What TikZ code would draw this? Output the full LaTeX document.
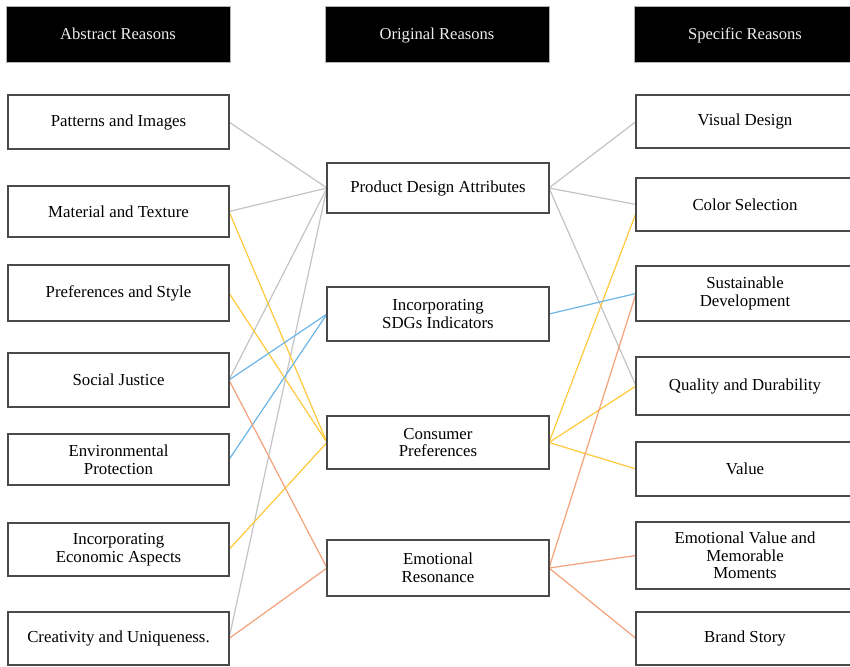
\documentclass[tikz,border=0pt]{standalone}
\usepackage{fontspec}
\setmainfont{Liberation Serif}
\begin{document}
\definecolor{boxline}{HTML}{4A4A4A}
\definecolor{lgray}{HTML}{C4C4C4}
\definecolor{lyellow}{HTML}{FFC93C}
\definecolor{lblue}{HTML}{6BB6E6}
\definecolor{lorange}{HTML}{F4A27A}
\begin{tikzpicture}[x=1pt,y=-1pt,
  header/.style={draw=gray!60,line width=0.8pt,fill=black,text=white!92!black,
    minimum height=56pt,inner sep=0pt,align=center,text height=11.5pt,text depth=0pt,
    font=\fontsize{16.6}{19}\selectfont},
  leftbox/.style={draw=boxline,line width=1.3pt,fill=white,minimum width=221pt,
    inner sep=0pt,align=center,font=\fontsize{16.8}{17.6}\selectfont},
  midbox/.style={leftbox,minimum width=222pt},
  rightbox/.style={leftbox,minimum width=218pt},
  link/.style={line width=1.2pt},
  gl/.style={link,lgray},
  yl/.style={link,lyellow},
  bl/.style={link,lblue},
  ol/.style={link,lorange}]
\useasboundingbox (0,0) rectangle (850,666);
\fill[white] (0,0) rectangle (850,666);

% column headers
\node[header,minimum width=224pt] (hA) at (118,34) {Abstract Reasons};
\node[header,minimum width=224pt] (hO) at (437,34) {Original Reasons};
\node[header,minimum width=222pt] (hS) at (745,34) {Specific Reasons};

% connectors (drawn first, boxes cover the ends)
\coordinate (pa) at (229,122);
\coordinate (mt) at (229,211.5);
\coordinate (ps) at (229,293);
\coordinate (sj) at (229,380);
\coordinate (ep) at (229,459.5);
\coordinate (ie) at (229,549.5);
\coordinate (cu) at (229,638.5);

\coordinate (pdaL) at (327,188);
\coordinate (pdaR) at (549,188);
\coordinate (sdgL) at (327,314);
\coordinate (sdgR) at (549,314);
\coordinate (cpL) at (327,442.5);
\coordinate (cpR) at (549,442.5);
\coordinate (erL) at (327,568);
\coordinate (erR) at (549,568);

\coordinate (vd) at (636,121.5);
\coordinate (cs) at (636,204.5);
\coordinate (csy) at (636,213);
\coordinate (sd) at (636,293.5);
\coordinate (qd) at (636,386);
\coordinate (va) at (636,469);
\coordinate (ev) at (636,555.5);
\coordinate (bs) at (636,638.5);

% gray: product design attributes
\draw[gl] (pa) -- (pdaL);
\draw[gl] (mt) -- (pdaL);
\draw[gl] (sj) -- (pdaL);
\draw[gl] (cu) -- (pdaL);
\draw[gl] (pdaR) -- (vd);
\draw[gl] (pdaR) -- (cs);
\draw[gl] (pdaR) -- (qd);

% yellow: consumer preferences
\draw[yl] (mt) -- (cpL);
\draw[yl] (ps) -- (cpL);
\draw[yl] (ie) -- (cpL);
\draw[yl] (cpR) -- (csy);
\draw[yl] (cpR) -- (qd);
\draw[yl] (cpR) -- (va);

% blue: SDGs indicators
\draw[bl] (sj) -- (sdgL);
\draw[bl] (ep) -- (sdgL);
\draw[bl] (sdgR) -- (sd);

% orange: emotional resonance
\draw[ol] (sj) -- (erL);
\draw[ol] (cu) -- (erL);
\draw[ol] (erR) -- (sd);
\draw[ol] (erR) -- (ev);
\draw[ol] (erR) -- (bs);

% left column
\node[leftbox,minimum height=54pt] (PA) at (118.5,122) {Patterns and Images};
\node[leftbox,minimum height=51pt] (MT) at (118.5,211.5) {Material and Texture};
\node[leftbox,minimum height=56pt] (PS) at (118.5,293) {Preferences and Style};
\node[leftbox,minimum height=54pt] (SJ) at (118.5,380) {Social Justice};
\node[leftbox,minimum height=51pt] (EP) at (118.5,459.5) {Environmental\\Protection};
\node[leftbox,minimum height=53pt] (IE) at (118.5,549.5) {Incorporating\\Economic Aspects};
\node[leftbox,minimum height=53pt] (CU) at (118.5,638.5) {Creativity and Uniqueness.};

% middle column
\node[midbox,minimum height=50pt] (PDA) at (438,188) {Product Design Attributes};
\node[midbox,minimum height=54pt] (SDG) at (438,314) {Incorporating\\SDGs Indicators};
\node[midbox,minimum height=53pt] (CP) at (438,442.5) {Consumer\\Preferences};
\node[midbox,minimum height=56pt] (ER) at (438,568) {Emotional\\Resonance};

% right column
\node[rightbox,minimum height=53pt] (VD) at (745,121.5) {Visual Design};
\node[rightbox,minimum height=53pt] (CS) at (745,204.5) {Color Selection};
\node[rightbox,minimum height=55pt] (SD) at (745,293.5) {Sustainable\\Development};
\node[rightbox,minimum height=58pt] (QD) at (745,386) {Quality and Durability};
\node[rightbox,minimum height=54pt] (VA) at (745,469) {Value};
\node[rightbox,minimum height=67pt] (EV) at (745,555.5) {Emotional Value and\\Memorable\\Moments};
\node[rightbox,minimum height=53pt] (BS) at (745,638.5) {Brand Story};
\end{tikzpicture}
\end{document}
